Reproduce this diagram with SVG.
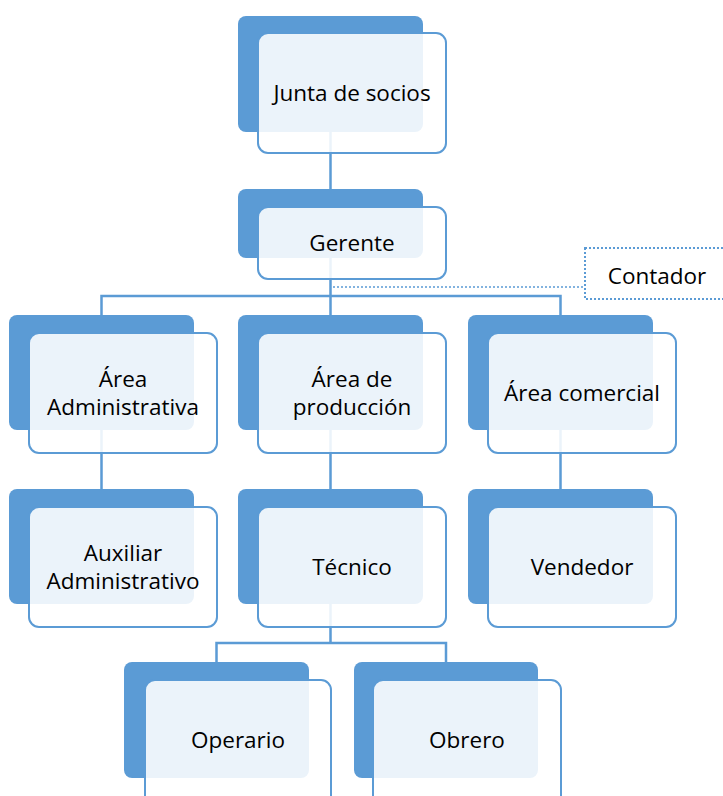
<svg xmlns="http://www.w3.org/2000/svg" width="723" height="796" viewBox="0 0 723 796">
<style>
.back{fill:#5B9BD5}
.front{fill:#fff;fill-opacity:0.88;stroke:#5B9BD5;stroke-width:2}
.conn{stroke:#5B9BD5;stroke-width:2.5;fill:none}
.dot{stroke:#5B9BD5;stroke-width:1.5;fill:none;stroke-dasharray:2 2}
text{font-family:"Open Sans","Noto Sans",sans-serif;font-size:22.5px;fill:#000;text-anchor:middle}
</style>
<rect width="723" height="796" fill="#fff"/>
<g id="connectors">
<path class="conn" d="M330.5,132 V189"/>
<path class="conn" d="M330.5,258 V315 M101.5,315 V296 H560.5 V315"/>
<path class="conn" d="M101.5,430 V489 M330.5,430 V489 M560.5,430 V489"/>
<path class="conn" d="M330.5,604 V643 M216.5,662 V643 H446 V662"/>
<path class="dot" d="M333,287 H585"/>
</g>
<g id="junta">
<rect class="back" x="238" y="16" width="185" height="116" rx="8"/>
<rect class="front" x="258" y="33" width="188" height="120" rx="10"/>
<text x="352" y="101">Junta de socios</text>
</g>
<g id="gerente">
<rect class="back" x="238" y="189" width="185" height="69" rx="8"/>
<rect class="front" x="258" y="207" width="188" height="72" rx="10"/>
<text x="352" y="251">Gerente</text>
</g>
<g id="contador">
<rect x="585" y="248" width="150" height="51" fill="#fff" stroke="#5B9BD5" stroke-width="2" stroke-dasharray="2 2"/>
<text x="657" y="284">Contador</text>
</g>
<g id="area-admin">
<rect class="back" x="9" y="315" width="185" height="115" rx="8"/>
<rect class="front" x="29" y="333" width="188" height="120" rx="10"/>
<text x="123" y="387">Área</text>
<text x="123" y="415">Administrativa</text>
</g>
<g id="area-produccion">
<rect class="back" x="238" y="315" width="185" height="115" rx="8"/>
<rect class="front" x="258" y="333" width="188" height="120" rx="10"/>
<text x="352" y="387">Área de</text>
<text x="352" y="415">producción</text>
</g>
<g id="area-comercial">
<rect class="back" x="468" y="315" width="185" height="115" rx="8"/>
<rect class="front" x="488" y="333" width="188" height="120" rx="10"/>
<text x="582" y="401">Área comercial</text>
</g>
<g id="auxiliar">
<rect class="back" x="9" y="489" width="185" height="115" rx="8"/>
<rect class="front" x="29" y="507" width="188" height="120" rx="10"/>
<text x="123" y="561">Auxiliar</text>
<text x="123" y="589">Administrativo</text>
</g>
<g id="tecnico">
<rect class="back" x="238" y="489" width="185" height="115" rx="8"/>
<rect class="front" x="258" y="507" width="188" height="120" rx="10"/>
<text x="352" y="575">Técnico</text>
</g>
<g id="vendedor">
<rect class="back" x="468" y="489" width="185" height="115" rx="8"/>
<rect class="front" x="488" y="507" width="188" height="120" rx="10"/>
<text x="582" y="575">Vendedor</text>
</g>
<g id="operario">
<rect class="back" x="124" y="662" width="185" height="116" rx="8"/>
<rect class="front" x="145" y="680" width="186" height="125" rx="10"/>
<text x="238" y="748">Operario</text>
</g>
<g id="obrero">
<rect class="back" x="354" y="662" width="184" height="116" rx="8"/>
<rect class="front" x="373" y="680" width="188" height="125" rx="10"/>
<text x="467" y="748">Obrero</text>
</g>
</svg>
